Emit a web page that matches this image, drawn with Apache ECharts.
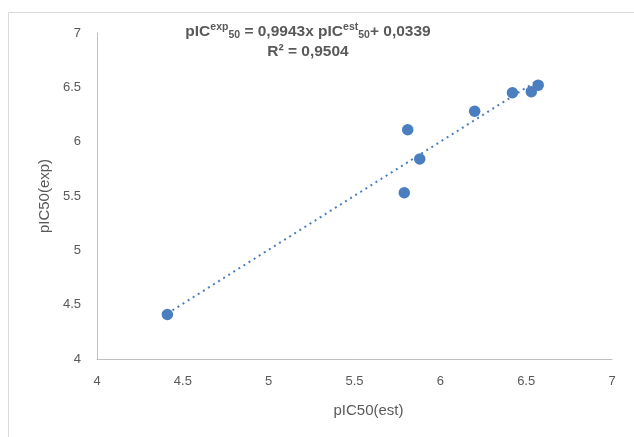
<!DOCTYPE html>
<html>
<head>
<meta charset="utf-8">
<script src="https://cdn.jsdelivr.net/npm/echarts@6/dist/echarts.min.js"></script>
<style>html,body{margin:0;padding:0;background:#fff}#c{width:634px;height:437px}</style>
</head>
<body>
<div id="c"></div>
<script>
// Data
var estValues = [4.41, 5.79, 5.81, 5.88, 6.20, 6.42, 6.53, 6.57];
var expValues = [4.41, 5.53, 6.11, 5.84, 6.28, 6.45, 6.46, 6.52];
var trendSlope = [0.9943];
var trendIntercept = [0.0339];
var trendX = [4.41, 6.57];
var xTicks = [4, 4.5, 5, 5.5, 6, 6.5, 7];
var yTicks = [4, 4.5, 5, 5.5, 6, 6.5, 7];

var points = estValues.map(function (x, i) { return [x, expValues[i]]; });
var trend = trendX.map(function (x) { return [x, trendSlope[0] * x + trendIntercept[0]]; });

var FONT = '"Liberation Sans", "Noto Sans", sans-serif';
var chart = echarts.init(document.getElementById('c'), null, {renderer: 'canvas'});
chart.setOption({
  animation: false,
  backgroundColor: '#fff',
  textStyle: {fontFamily: FONT},
  graphic: [{
    type: 'rect', shape: {x: 8.5, y: 12.5, width: 640, height: 440},
    style: {fill: 'none', stroke: '#d9d9d9', lineWidth: 1}, silent: true
  }],
  title: {
    left: 303, top: 17, textAlign: 'center',
    text: '{b|pIC}{sup|exp}{sub|50}{b| = 0,9943x pIC}{sup|est}{sub|50}{b|+ 0,0339}\n{b|R² = 0,9504}',
    textStyle: {
      fontFamily: FONT,
      rich: {
        b: {fontSize: 15.5, fontWeight: 'bold', color: '#595959', fontFamily: FONT, lineHeight: 20},
        sup: {fontSize: 10.5, fontWeight: 'bold', color: '#595959', fontFamily: FONT, padding: [0, 0, 9, 0], lineHeight: 20},
        sub: {fontSize: 10.5, fontWeight: 'bold', color: '#595959', fontFamily: FONT, padding: [7, 0, 0, 0], lineHeight: 20}
      }
    }
  },
  grid: {left: 97, right: 22, top: 33, bottom: 78, containLabel: false},
  xAxis: {
    type: 'value', min: 4, max: 7, interval: 0.5,
    name: 'pIC50(est)', nameLocation: 'middle', nameGap: 44,
    nameTextStyle: {color: '#595959', fontSize: 15, fontFamily: FONT, padding: [0, 0, 0, 28]},
    axisLine: {show: true, lineStyle: {color: '#bfbfbf', width: 1}},
    axisTick: {show: false},
    splitLine: {show: false},
    axisLabel: {color: '#595959', fontSize: 13, margin: 16, fontFamily: FONT,
      formatter: function (v) { return xTicks.indexOf(v) >= 0 ? String(v) : ''; }}
  },
  yAxis: {
    type: 'value', min: 4, max: 7, interval: 0.5,
    name: 'pIC50(exp)', nameLocation: 'middle', nameGap: 44,
    nameTextStyle: {color: '#595959', fontSize: 15, fontFamily: FONT},
    axisLine: {show: true, lineStyle: {color: '#bfbfbf', width: 1}},
    axisTick: {show: false},
    splitLine: {show: false},
    axisLabel: {color: '#595959', fontSize: 13, margin: 16, fontFamily: FONT,
      formatter: function (v) { return yTicks.indexOf(v) >= 0 ? String(v) : ''; }}
  },
  series: [{
    type: 'line', data: trend, symbol: 'none', silent: true,
    lineStyle: {color: '#4a7ebf', width: 2, type: [2, 4]}, z: 1
  }, {
    type: 'scatter', data: points, symbolSize: 11.5,
    itemStyle: {color: '#4a7ebf', opacity: 1}, z: 2
  }]
});
</script>
</body>
</html>
